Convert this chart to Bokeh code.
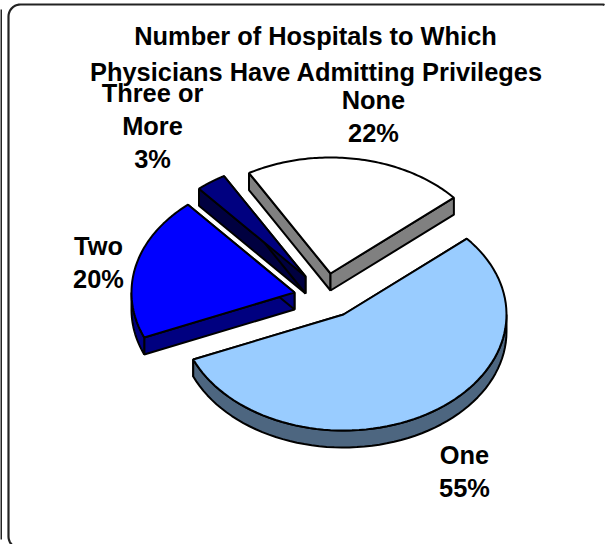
import numpy as np
from bokeh.plotting import figure
from bokeh.models import ColumnDataSource, Range1d
from bokeh.core.properties import value
from bokeh.embed import file_html
from bokeh.resources import INLINE

# --- data ---
categories = ["None", "One", "Two", "Three or More"]
shares = [22, 55, 20, 3]
share_labels = ["22%", "55%", "20%", "3%"]
title_lines = ["Number of Hospitals to Which", "Physicians Have Admitting Privileges"]

# --- style ---
top_colors = ["#FFFFFF", "#99CCFF", "#0000FF", "#000080"]
side_colors = ["#808080", "#4D6680", "#000080", "#000040"]
apex_x = [330, 343, 294, 305]
apex_y = [273, 314, 292, 276]
RX, RY, DEPTH = 163, 116, 17
START = 120.0
label_lines = [["None", "22%"], ["One", "55%"], ["Two", "20%"], ["Three or", "More", "3%"]]
label_x = [373, 464, 98, 152]
label_y0 = [99, 454, 245, 92]
LINE_GAP = 33

W, H = 609, 544
p = figure(width=W, height=H, output_backend="svg", toolbar_location=None,
           x_range=Range1d(0, W), y_range=Range1d(H, 0), min_border=0,
           outline_line_color=None, background_fill_color="white")
p.axis.visible = False
p.grid.visible = False
p.margin = (0, 0, 0, 0)


def frame_path(x0, y0, x1, y1, r):
    xs, ys = [], []
    for cx, cy, a0 in [(x0 + r, y1 - r, 90), (x0 + r, y0 + r, 180)]:
        a = np.radians(np.linspace(a0, a0 + 90, 12))
        xs += list(cx + r * np.cos(a))
        ys += list(cy + r * np.sin(a))
    a = np.radians(np.linspace(270, 300, 4))
    xs += list(x1 - 4 + 4 * np.cos(a))
    ys += list(y0 + 4 + 4 * np.sin(a))
    return xs, ys


fx, fy = frame_path(8, 4, 606, 548, 12)
p.line(fx, fy, line_color="#222222", line_width=2.2)
p.line([0.5, 0.5], [9, 539], line_color="#222222", line_width=2)

# slices, clockwise from START
bounds = START - 3.6 * np.concatenate([[0], np.cumsum(shares)])
def ell(cx, cy, t):
    r = np.radians(t)
    return cx + RX * np.cos(r), cy - RY * np.sin(r)

for i in [3, 0, 2, 1]:
    a0, a1 = bounds[i], bounds[i + 1]  # a0 > a1
    cx, cy = apex_x[i], apex_y[i]
    ts = np.linspace(a0, a1, 80)
    ax, ay = ell(cx, cy, ts)
    # cut faces
    xa, ya = ell(cx, cy, a0)
    xb, yb = ell(cx, cy, a1)
    side_x = [[cx, xa, xa, cx], [cx, xb, xb, cx]]
    side_y = [[cy, ya, ya + DEPTH, cy + DEPTH], [cy, yb, yb + DEPTH, cy + DEPTH]]
    # rim: the part of the arc facing the viewer
    rim = []
    for k in range(-1, 1):
        lo = max(a1, 180 + 360 * k)
        hi = min(a0, 360 + 360 * k)
        if hi > lo:
            rim.append(np.linspace(lo, hi, 60))
    for r in rim:
        rx, ry = ell(cx, cy, r)
        side_x.append(list(rx) + list(rx[::-1]))
        side_y.append(list(ry) + list(ry[::-1] + DEPTH))
    src = ColumnDataSource(dict(xs=side_x, ys=side_y))
    p.patches("xs", "ys", source=src, fill_color=side_colors[i], line_color="black", line_width=2)
    p.patch(np.r_[cx, ax], np.r_[cy, ay], fill_color=top_colors[i], line_color="black", line_width=2)

# texts
tsrc = dict(x=[], y=[], t=[])
for lines, x, y0 in zip(label_lines, label_x, label_y0):
    for j, s in enumerate(lines):
        tsrc["x"].append(x)
        tsrc["y"].append(y0 + j * LINE_GAP)
        tsrc["t"].append(s)
p.text("x", "y", text="t", source=ColumnDataSource(tsrc), text_font=value("Liberation Sans"),
       text_font_style="bold", text_font_size="25.4px", text_align="center", text_baseline="middle", text_color="black")
p.text([315, 316], [35, 71], text=title_lines, text_font=value("Liberation Sans"),
       text_font_style="bold", text_font_size="25.4px", text_align="center", text_baseline="middle", text_color="black")

open("out.html", "w").write(file_html(p, INLINE))
